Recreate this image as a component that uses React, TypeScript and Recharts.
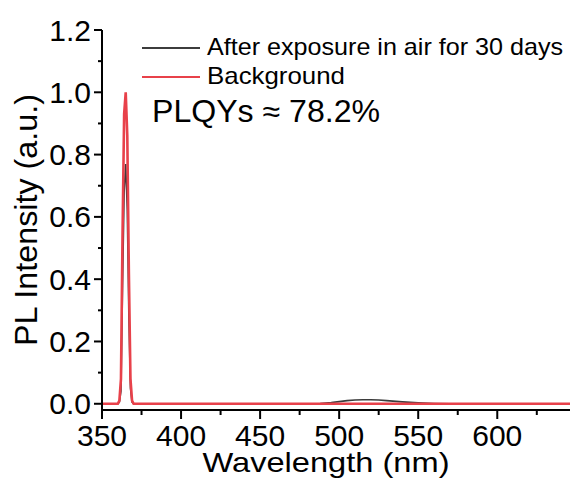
import React from 'react';
import { LineChart, Line, XAxis, YAxis } from 'recharts';

const wavelengths = [350, 355, 358, 360, 361, 362, 363, 364, 365, 366, 367, 368, 369, 370, 372, 375, 380, 400, 450, 480, 488, 495, 500, 505, 510, 515, 520, 525, 530, 540, 550, 560, 570, 600, 646];
const afterExposure = [0, 0, 0, 0, 0.005, 0.04, 0.38, 0.68, 0.77, 0.62, 0.28, 0.05, 0.005, 0, 0, 0, 0, 0, 0, 0, 0.001, 0.004, 0.007, 0.010, 0.012, 0.013, 0.013, 0.012, 0.010, 0.006, 0.003, 0.001, 0, 0, 0];
const background = [0, 0, 0, 0, 0.01, 0.08, 0.55, 0.93, 1.0, 0.86, 0.42, 0.08, 0.01, 0, 0, 0, 0, 0, 0, 0, 0, 0, 0, 0, 0, 0, 0, 0, 0, 0, 0, 0, 0, 0, 0];

const xTicks = [350, 375, 400, 425, 450, 475, 500, 525, 550, 575, 600, 625];
const yTicks = [0, 0.1, 0.2, 0.3, 0.4, 0.5, 0.6, 0.7, 0.8, 0.9, 1.0, 1.1, 1.2];

const data = wavelengths.map((wl, i) => ({ wl, after: afterExposure[i], bg: background[i] }));

const FONT = 'Liberation Sans, Arial, sans-serif';
const BLACK_LINE = '#3c3c3c';
const RED_LINE = '#e8414a';

const XTick = (props: any) => {
  const { x, y, payload } = props;
  const major = payload.value % 50 === 0;
  return (
    <g>
      <line x1={x} y1={y} x2={x} y2={y + (major ? 9 : 5)} stroke="#000" strokeWidth={2} />
      {major && (
        <text x={x} y={y + 36} textAnchor="middle" fontSize={30} fontFamily={FONT} fill="#000">
          {payload.value}
        </text>
      )}
    </g>
  );
};

const YTick = (props: any) => {
  const { x, y, payload } = props;
  const major = Math.round(payload.value * 10) % 2 === 0;
  return (
    <g>
      <line x1={x} y1={y} x2={x - (major ? 8 : 4)} y2={y} stroke="#000" strokeWidth={2} />
      {major && (
        <text x={x - 11} y={y + 10.5} textAnchor="end" fontSize={30} fontFamily={FONT} fill="#000">
          {payload.value.toFixed(1)}
        </text>
      )}
    </g>
  );
};

export default function App() {
  return (
    <div style={{ position: 'absolute', left: 0, top: 0, width: 570, height: 479, background: '#fff', fontFamily: FONT }}>
      <LineChart width={570} height={479} data={data} margin={{ top: 30, right: 0, left: 0, bottom: 0 }}>
        <XAxis
          dataKey="wl"
          type="number"
          domain={[350, 646]}
          ticks={xTicks}
          interval={0}
          allowDataOverflow
          height={69}
          tickSize={0}
          tickMargin={0}
          tickLine={false}
          tick={<XTick />}
          axisLine={{ stroke: '#000', strokeWidth: 2 }}
        />
        <XAxis
          xAxisId="top"
          dataKey="wl"
          type="number"
          domain={[350, 646]}
          orientation="top"
          height={0}
          tick={false}
          tickLine={false}
          axisLine={{ stroke: '#000', strokeWidth: 2 }}
        />
        <YAxis
          type="number"
          domain={[-0.02, 1.2]}
          ticks={yTicks}
          interval={0}
          allowDataOverflow
          width={102}
          tickSize={0}
          tickMargin={0}
          tickLine={false}
          tick={<YTick />}
          axisLine={{ stroke: '#000', strokeWidth: 2 }}
        />
        <Line dataKey="after" stroke={BLACK_LINE} strokeWidth={1.6} dot={false} isAnimationActive={false} type="linear" />
        <Line dataKey="bg" stroke={RED_LINE} strokeWidth={2.6} dot={false} isAnimationActive={false} type="linear" />
      </LineChart>
      <svg width={570} height={479} style={{ position: 'absolute', left: 0, top: 0, pointerEvents: 'none' }}>
        <text x={326} y={472} textAnchor="middle" fontSize={28} fontFamily={FONT} fill="#000" textLength={247} lengthAdjust="spacingAndGlyphs">
          Wavelength (nm)
        </text>
        <text
          x={0}
          y={0}
          transform="translate(37, 220) rotate(-90)"
          textAnchor="middle"
          fontSize={31}
          fontFamily={FONT}
          fill="#000"
          textLength={252}
          lengthAdjust="spacingAndGlyphs"
        >
          PL Intensity (a.u.)
        </text>
        <line x1={142} y1={48} x2={200} y2={48} stroke={BLACK_LINE} strokeWidth={2} />
        <text x={207} y={55} fontSize={24} fontFamily={FONT} fill="#000" textLength={356} lengthAdjust="spacingAndGlyphs">
          After exposure in air for 30 days
        </text>
        <line x1={142} y1={77} x2={200} y2={77} stroke={RED_LINE} strokeWidth={2} />
        <text x={207} y={84} fontSize={24} fontFamily={FONT} fill="#000" textLength={138} lengthAdjust="spacingAndGlyphs">
          Background
        </text>
        <text x={152} y={122} fontSize={31} fontFamily={FONT} fill="#000" textLength={228} lengthAdjust="spacingAndGlyphs">
          PLQYs ≈ 78.2%
        </text>
      </svg>
    </div>
  );
}
